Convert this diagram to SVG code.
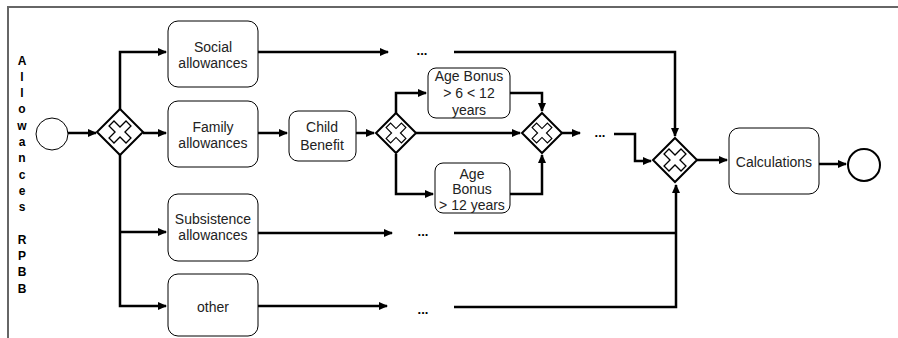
<svg xmlns="http://www.w3.org/2000/svg" width="898" height="338" viewBox="0 0 898 338">
<defs>
<style>
.t{font-family:"Liberation Sans",Arial,sans-serif;font-size:14px;fill:#222;text-anchor:middle}
.v{font-family:"Liberation Sans",Arial,sans-serif;font-size:12px;font-weight:bold;fill:#000;text-anchor:middle}
.d{font-family:"Liberation Sans",Arial,sans-serif;font-size:13px;font-weight:bold;fill:#000;text-anchor:middle}
.box{fill:#fff;stroke:#000;stroke-width:1}
.gw{fill:#fff;stroke:#000;stroke-width:2}
.x{fill:#fff;stroke:#000;stroke-width:1.3}
.c{fill:none;stroke:#000;stroke-width:2.5}
.frame{fill:none;stroke:#666;stroke-width:2}
</style>
<marker id="a" markerWidth="10" markerHeight="10" refX="8" refY="4" orient="auto" markerUnits="userSpaceOnUse">
<path d="M0,0 L9,4 L0,8 z" fill="#000"/>
</marker>
<path id="cross" d="M-3.5,-12 H3.5 V-3.5 H12 V3.5 H3.5 V12 H-3.5 V3.5 H-12 V-3.5 H-3.5 z" transform="rotate(45)"/>
</defs>
<g id="frame">
<path class="frame" d="M8,338 V7 H898"/>
</g>
<g id="lane-label">
<text class="v" x="22" y="64.5">A</text>
<text class="v" x="22" y="80.8">l</text>
<text class="v" x="22" y="97.1">l</text>
<text class="v" x="22" y="113.4">o</text>
<text class="v" x="22" y="129.7">w</text>
<text class="v" x="22" y="146">a</text>
<text class="v" x="22" y="162.3">n</text>
<text class="v" x="22" y="178.6">c</text>
<text class="v" x="22" y="194.9">e</text>
<text class="v" x="22" y="211.2">s</text>
<text class="v" x="22" y="243.8">R</text>
<text class="v" x="22" y="260.1">P</text>
<text class="v" x="22" y="276.4">B</text>
<text class="v" x="22" y="292.7">B</text>
</g>
<g id="connectors">
<path class="c" d="M68,133 H96" marker-end="url(#a)"/>
<path class="c" d="M120,110 V52 H166" marker-end="url(#a)"/>
<path class="c" d="M143,133 H166" marker-end="url(#a)"/>
<path class="c" d="M120,154 V306 H166" marker-end="url(#a)"/>
<path class="c" d="M120,232 H166" marker-end="url(#a)"/>
<path class="c" d="M258,133 H287" marker-end="url(#a)"/>
<path class="c" d="M356,133 H374" marker-end="url(#a)"/>
<path class="c" d="M396,114 V93 H426" marker-end="url(#a)"/>
<path class="c" d="M416,133 H520" marker-end="url(#a)"/>
<path class="c" d="M396,154 V194 H433" marker-end="url(#a)"/>
<path class="c" d="M510,93 H542 V111" marker-end="url(#a)"/>
<path class="c" d="M510,194 H542 V155" marker-end="url(#a)"/>
<path class="c" d="M562,133 H580" marker-end="url(#a)"/>
<path class="c" d="M614,134 H635 V161 H651" marker-end="url(#a)"/>
<path class="c" d="M258,52 H388" marker-end="url(#a)"/>
<path class="c" d="M454,52 H675 V136" marker-end="url(#a)"/>
<path class="c" d="M258,233 H392" marker-end="url(#a)"/>
<path class="c" d="M258,306 H387" marker-end="url(#a)"/>
<path class="c" d="M454,307 H676 V185" marker-end="url(#a)"/>
<path class="c" d="M454,233 H676"/>
<path class="c" d="M697,160 H727" marker-end="url(#a)"/>
<path class="c" d="M819,164 H846" marker-end="url(#a)"/>
<text class="d" x="422" y="55">...</text>
<text class="d" x="423" y="236">...</text>
<text class="d" x="423" y="314">...</text>
<text class="d" x="600" y="137">...</text>
</g>
<g id="start">
<circle cx="52" cy="134" r="16" fill="#fff" stroke="#000" stroke-width="1"/>
</g>
<g id="gw1">
<path class="gw" d="M120,109 L143,132 L120,155 L97,132 z"/>
<use href="#cross" class="x" transform="translate(120,132)"/>
</g>
<g id="social">
<rect class="box" x="168" y="21" width="90" height="66" rx="10"/>
<text class="t" x="213" y="52">Social</text>
<text class="t" x="213" y="68">allowances</text>
</g>
<g id="family">
<rect class="box" x="168" y="101" width="90" height="66" rx="10"/>
<text class="t" x="213" y="132">Family</text>
<text class="t" x="213" y="148">allowances</text>
</g>
<g id="subsistence">
<rect class="box" x="168" y="194" width="90" height="67" rx="10"/>
<text class="t" x="213" y="224">Subsistence</text>
<text class="t" x="213" y="240">allowances</text>
</g>
<g id="other">
<rect class="box" x="168" y="274" width="90" height="62" rx="10"/>
<text class="t" x="213" y="312">other</text>
</g>
<g id="child">
<rect class="box" x="289" y="111" width="67" height="50" rx="9"/>
<text class="t" x="322" y="132">Child</text>
<text class="t" x="322" y="150">Benefit</text>
</g>
<g id="gw2">
<path class="gw" d="M396,113 L416,133 L396,153 L376,133 z"/>
<use href="#cross" class="x" transform="translate(396,133) scale(0.9)"/>
</g>
<g id="age1">
<rect class="box" x="428" y="68" width="82" height="50" rx="8"/>
<text class="t" x="469" y="81">Age Bonus</text>
<text class="t" x="469" y="98">&gt; 6 &lt; 12</text>
<text class="t" x="469" y="115">years</text>
</g>
<g id="age2">
<rect class="box" x="435" y="163" width="75" height="50" rx="8"/>
<text class="t" x="472" y="179">Age</text>
<text class="t" x="472" y="194">Bonus</text>
<text class="t" x="472" y="210">&gt; 12 years</text>
</g>
<g id="gw3">
<path class="gw" d="M542,113 L562,133 L542,153 L522,133 z"/>
<use href="#cross" class="x" transform="translate(542,133) scale(0.9)"/>
</g>
<g id="gw4">
<path class="gw" d="M675,138 L697,160 L675,182 L653,160 z"/>
<use href="#cross" class="x" transform="translate(675,160)"/>
</g>
<g id="calc">
<rect class="box" x="729" y="128" width="90" height="66" rx="10"/>
<text class="t" x="774" y="167">Calculations</text>
</g>
<g id="end">
<circle cx="864" cy="165" r="16" fill="#fff" stroke="#000" stroke-width="2"/>
</g>
</svg>
